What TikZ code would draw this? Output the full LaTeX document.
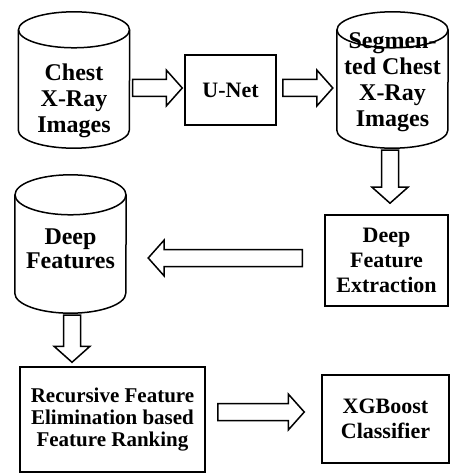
\documentclass[tikz,border=0pt]{standalone}
\usepackage{fontspec}
\setmainfont{Liberation Serif}
\usetikzlibrary{calc,positioning}
\tikzstyle{block} = [draw, rectangle, line width=1.5pt, align=center, font=\fontsize{22}{25}\selectfont\bfseries]
\tikzstyle{db} = [rectangle, minimum width=111pt, minimum height=136pt, inner sep=0pt]
\tikzstyle{dbtext} = [align=center, inner sep=0pt, font=\fontsize{24}{26}\selectfont\bfseries]
\tikzstyle{arrowline} = [draw, line width=1.5pt, fill=white]

% cylinder outline round a db node: #1 name, #2 half height of the ellipses
\newcommand{\drawdb}[2]{%
  \draw [line width=1.5pt] ([yshift=-#2]#1.north) ellipse [x radius=55.5pt, y radius=#2];
  \draw [line width=1.5pt] ([yshift=-#2]#1.north west) -- ([yshift=#2]#1.south west)
    arc [start angle=180, end angle=360, x radius=55.5pt, y radius=#2] -- ([yshift=-#2]#1.north east);
}
% hollow block arrow from #1 to #2
\newcommand{\hollowarrow}[2]{%
  \coordinate (s) at (#1);
  \coordinate (e) at (#2);
  \coordinate (h) at ($(e)!16pt!(s)$);
  \draw [arrowline] ($(s)!8.5pt!90:(e)$) -- ($(h)!8.5pt!90:(e)$) -- ($(h)!18pt!90:(e)$) -- (e)
    -- ($(h)!18pt!-90:(e)$) -- ($(h)!8.5pt!-90:(e)$) -- ($(s)!8.5pt!-90:(e)$) -- cycle;
}

\begin{document}
\begin{tikzpicture}[x=1pt, y=-1pt]

\useasboundingbox (0,0) rectangle (450,473);

\node [db] (xray) at (74,80) {};
\node [block, right of=xray, node distance=156.5pt, yshift=-10pt, minimum width=91pt, minimum height=70pt] (unet) {U-Net};
\node [db, right of=xray, node distance=318.5pt] (seg) {};
\node [block, below of=seg, node distance=180.5pt, xshift=-6pt, minimum width=123pt, minimum height=91pt] (dfe) {Deep\\Feature\\Extraction};
\node [db, minimum height=138pt, below of=xray, node distance=164pt, xshift=-3.5pt] (feat) {};
\node [block, below of=feat, node distance=175.5pt, xshift=42pt, minimum width=185pt, minimum height=105pt,
       font=\fontsize{21}{22}\selectfont\bfseries] (rfe) {Recursive Feature\\Elimination based\\Feature Ranking};
\node [block, right of=rfe, node distance=273pt, yshift=0.5pt, minimum width=127pt, minimum height=88pt] (xgb) {XGBoost\\Classifier};

\drawdb{xray}{18pt}
\drawdb{seg}{18pt}
\drawdb{feat}{20pt}

\node [dbtext, below of=xray, node distance=21pt] (xraytext) {Chest\\X-Ray\\Images};
\node [dbtext, below of=seg, node distance=2pt] (segtext) {Segmen-\\ted Chest\\X-Ray\\Images};
\node [dbtext, below of=feat, node distance=5pt, font=\fontsize{24}{24}\selectfont\bfseries] (feattext) {Deep\\Features};

\hollowarrow{$(xray.east |- unet.west)+(3,-2)$}{$(unet.west)+(-2,-2)$}
\hollowarrow{$(unet.east)+(6,-2)$}{$(seg.west |- unet.west)+(-4,-2)$}
\hollowarrow{$(seg.south)+(-2.5,2)$}{$(seg.south)+(-2.5,55)$}
\hollowarrow{$(dfe.west)+(-22,-2.5)$}{$(feat.east |- dfe.west)+(22,-2.5)$}
\hollowarrow{$(feat.south)+(1.5,2)$}{$(rfe.north)+(-40.5,-4)$}
\hollowarrow{$(rfe.east)+(12,-7.5)$}{$(xgb.west)+(-17,-7)$}

\end{tikzpicture}
\end{document}
